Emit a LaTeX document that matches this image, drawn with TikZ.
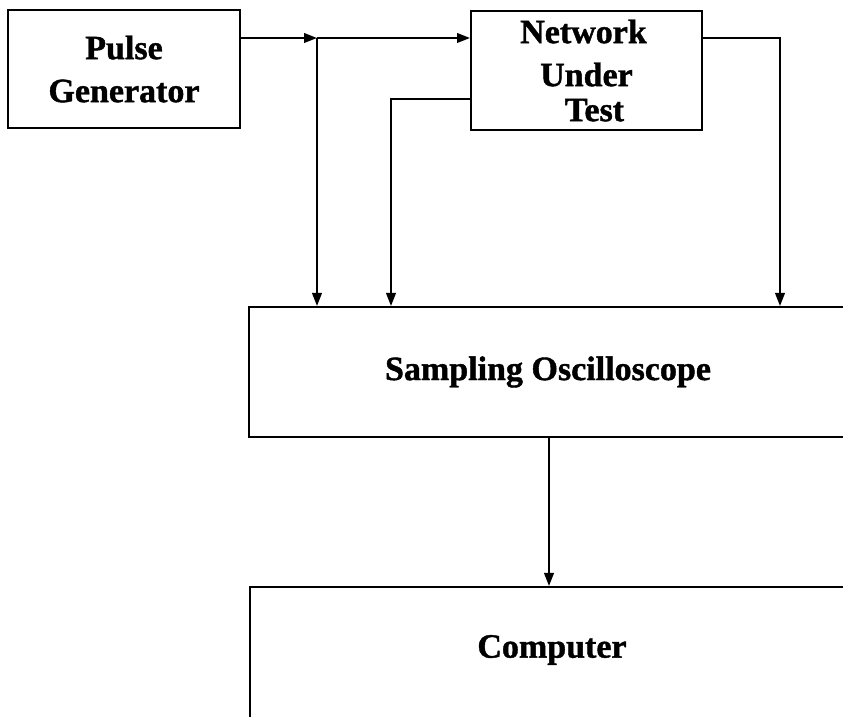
\documentclass[tikz,border=0pt]{standalone}
\usepackage{fontspec}
\setmainfont[FakeBold=1.2]{Liberation Serif}
\usetikzlibrary{arrows.meta}
\begin{document}
\begin{tikzpicture}[x=0.5pt,y=-0.5pt,
  blk/.style={draw, line width=1pt, inner sep=0pt, align=center,
              font=\fontsize{17}{21.5}\selectfont\bfseries},
  lbl/.style={inner sep=0pt, font=\fontsize{17}{21.5}\selectfont\bfseries},
  wire/.style={line width=1pt},
  flow/.style={wire, -{Triangle[length=6.5pt,width=4.8pt]}}]
\useasboundingbox (0,0) rectangle (843,717);
\clip (0,0) rectangle (843,717);

% blocks
\node[blk, minimum width=116pt, minimum height=59pt] (pulse) at (124,69) {Pulse\\Generator};
\node[blk, minimum width=115.5pt, minimum height=59.5pt] (net) at (586.5,70.5)
  {Network\hspace*{3pt}\\Under\\[-4pt]\hspace*{8pt}Test};
\node[blk, minimum width=299pt, minimum height=65pt] (osc) at (548,372) {Sampling Oscilloscope};
\node[draw, line width=1pt, inner sep=0pt, anchor=north west,
      minimum width=310pt, minimum height=75pt] (computer) at (249,586) {};
\node[lbl] (comptext) at (552,650) {Computer};

% branch points
\coordinate (j) at (317,38);
\coordinate (l) at (391,99);
\coordinate (r) at (780,38);
\coordinate (d) at (549,0);

% connections
\draw[flow] (pulse.east |- j) -- (j);
\draw[flow] (j) -- (net.west |- j);
\draw[flow] (j) -- (j |- osc.north);
\draw[flow] (net.west |- l) -| (l |- osc.north);
\draw[flow] (net.east |- r) -| (r |- osc.north);
\draw[flow] (d |- osc.south) -- (d |- computer.north);
\end{tikzpicture}
\end{document}
